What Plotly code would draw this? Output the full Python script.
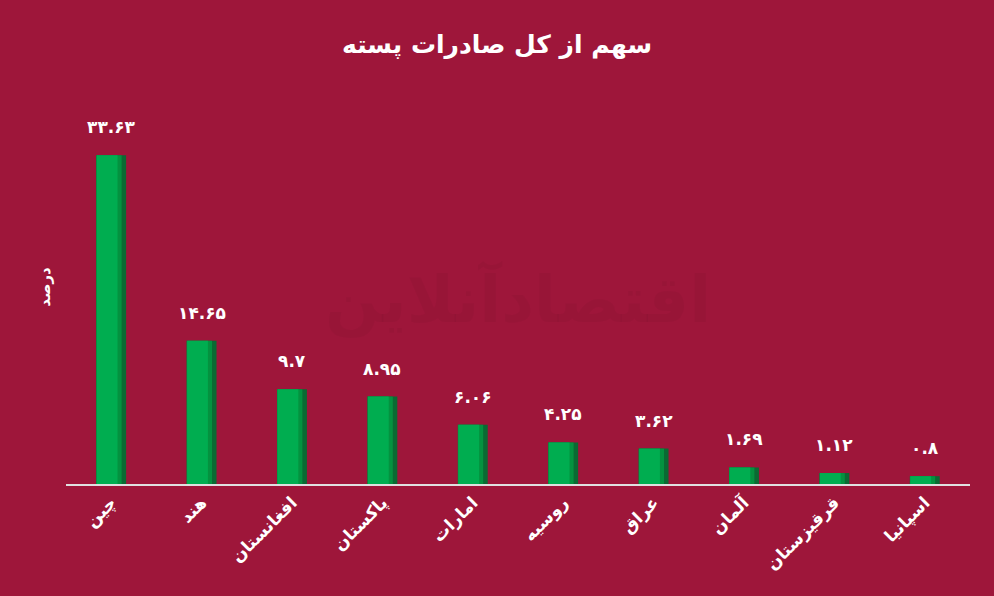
import plotly.graph_objects as go

countries = ["چین", "هند", "افغانستان", "پاکستان", "امارات", "روسیه", "عراق", "آلمان", "قرقیزستان", "اسپانیا"]
shares = [33.63, 14.65, 9.7, 8.95, 6.06, 4.25, 3.62, 1.69, 1.12, 0.8]
labels = ["۳۳.۶۳", "۱۴.۶۵", "۹.۷", "۸.۹۵", "۶.۰۶", "۴.۲۵", "۳.۶۲", "۱.۶۹", "۱.۱۲", "۰.۸"]

BG = "#9E163A"
FONT = "DejaVu Sans"

fig = go.Figure()
fig.add_bar(x=countries, y=shares, width=0.33, offset=-0.165,
            marker=dict(color="#0B6A33", line=dict(width=0)), hoverinfo="skip")
fig.add_bar(x=countries, y=shares, width=0.28, offset=-0.165,
            marker=dict(color="#04923F", line=dict(width=0)), hoverinfo="skip")
fig.add_bar(x=countries, y=shares, width=0.23, offset=-0.16,
            marker=dict(color="#00AD50", line=dict(width=0)))

for c, v, t in zip(countries, shares, labels):
    fig.add_annotation(x=c, y=v, text=f"<b>{t}</b>", showarrow=False,
                       yshift=28, font=dict(family=FONT, size=17, color="white"))

# faint watermark
fig.add_annotation(xref="paper", yref="paper", x=0.5, y=0.47, text="<b>اقتصادآنلاین</b>",
                   showarrow=False, font=dict(family=FONT, size=64, color="rgba(0,0,0,0.035)"))

fig.update_layout(
    width=994, height=596,
    paper_bgcolor=BG, plot_bgcolor=BG,
    barmode="overlay", showlegend=False,
    margin=dict(l=66, r=24, t=90, b=112),
    title=dict(text="<b>سهم از کل صادرات پسته</b>", x=0.5, xanchor="center", y=0.94,
               font=dict(family=FONT, size=25, color="white")),
    font=dict(family=FONT, color="white"),
)
fig.update_xaxes(showline=True, linecolor="#E0E0E0", linewidth=2, ticks="",
                 tickangle=-45, showgrid=False,
                 tickfont=dict(family=FONT, size=17, color="white"),
                 tickprefix="<b>", ticksuffix="</b>")
fig.update_yaxes(range=[0, 40.3], showticklabels=False, showgrid=False, zeroline=False,
                 title=dict(text="<b>درصد</b>", font=dict(family=FONT, size=15, color="white"), standoff=10))

fig.write_html("out.html", config={"displayModeBar": False},
               post_script="document.body.style.margin='0';document.body.style.background='" + BG + "';")
